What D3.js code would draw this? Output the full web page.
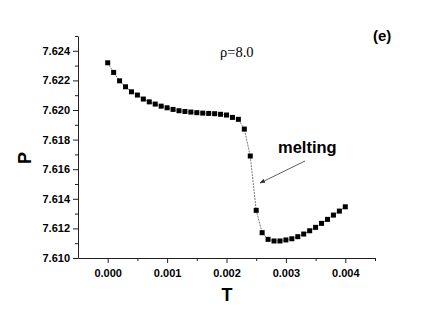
<!DOCTYPE html>
<html>
<head>
<meta charset="utf-8">
<script src="https://cdn.jsdelivr.net/npm/d3@7/dist/d3.min.js"></script>
<style>
  body { margin: 0; background: #fff; }
  svg { display: block; }
  .tick text { font-family: Arial, "Liberation Sans", sans-serif; font-weight: bold; font-size: 11px; fill: #000; }
</style>
</head>
<body>
<div id="chart"></div>
<script>
// temperature steps (0 .. 0.004, every 0.0001)
const temps = d3.range(0, 41).map(i => +(i * 0.0001).toFixed(4));
// pressure
const pressure = [
  7.62319, 7.62254, 7.62197, 7.62157, 7.62123, 7.62101, 7.62074, 7.62055, 7.62040, 7.62026,
  7.62015, 7.62004, 7.61995, 7.61990, 7.61986, 7.61982, 7.61979, 7.61977, 7.61975, 7.61971,
  7.61966, 7.61950, 7.61937, 7.61871, 7.61689, 7.61322, 7.61171, 7.61126, 7.61115, 7.61115,
  7.61122, 7.61130, 7.61144, 7.61162, 7.61184, 7.61207, 7.61234, 7.61261, 7.61290, 7.61317,
  7.61346
];
const xTicks = [0, 0.001, 0.002, 0.003, 0.004];
const xMinor = [0.0005, 0.0015, 0.0025, 0.0035, 0.0045];
const yTicks = [7.610, 7.612, 7.614, 7.616, 7.618, 7.620, 7.622, 7.624];
const yMinor = [7.611, 7.613, 7.615, 7.617, 7.619, 7.621, 7.623, 7.625];

const data = temps.map((t, i) => ({ t: t, p: pressure[i] }));

const width = 436, height = 309;
const svg = d3.select("#chart").append("svg")
  .attr("width", width)
  .attr("height", height);

const x = d3.scaleLinear().domain([-0.0005, 0.0045]).range([78, 375]);
const y = d3.scaleLinear().domain([7.610, 7.625]).range([258, 36]);

// minor ticks first, then the main axes on top
svg.append("g")
  .attr("transform", "translate(0,258)")
  .call(d3.axisBottom(x).tickValues(xMinor).tickSize(3).tickFormat(""))
  .call(g => g.select(".domain").remove());
svg.append("g")
  .attr("transform", "translate(78,0)")
  .call(d3.axisLeft(y).tickValues(yMinor).tickSize(3).tickFormat(""))
  .call(g => g.select(".domain").remove());

svg.append("g")
  .attr("transform", "translate(0,258)")
  .call(d3.axisBottom(x).tickValues(xTicks).tickSize(5).tickSizeOuter(0).tickPadding(6).tickFormat(d3.format(".3f")));
svg.append("g")
  .attr("transform", "translate(78,0)")
  .call(d3.axisLeft(y).tickValues(yTicks).tickSize(5).tickSizeOuter(0).tickPadding(3).tickFormat(d3.format(".3f")));

svg.selectAll(".domain, .tick line").attr("stroke", "#222").attr("stroke-width", 1);

// axis titles
svg.append("text")
  .attr("x", 227).attr("y", 301)
  .attr("text-anchor", "middle")
  .attr("font-family", "Arial, 'Liberation Sans', sans-serif")
  .attr("font-weight", "bold").attr("font-size", 18)
  .text("T");
svg.append("text")
  .attr("transform", "translate(31,158) rotate(-90)")
  .attr("text-anchor", "middle")
  .attr("font-family", "Arial, 'Liberation Sans', sans-serif")
  .attr("font-weight", "bold").attr("font-size", 18)
  .text("P");

// connecting line
const line = d3.line().x(d => x(d.t)).y(d => y(d.p));
svg.append("path")
  .datum(data)
  .attr("fill", "none")
  .attr("stroke", "#555")
  .attr("stroke-width", 0.8)
  .attr("stroke-dasharray", "2,1")
  .attr("d", line);

// square markers
svg.selectAll("rect.pt")
  .data(data)
  .enter()
  .append("rect")
  .attr("class", "pt")
  .attr("x", d => x(d.t) - 2.5)
  .attr("y", d => y(d.p) - 2.5)
  .attr("width", 5)
  .attr("height", 5)
  .attr("fill", "#000");

// labels
svg.append("text")
  .attr("x", 220).attr("y", 57)
  .style("font-family", "'Liberation Serif', 'DejaVu Serif', serif")
  .attr("font-size", 14.5)
  .text("ρ=8.0");
svg.append("text")
  .attr("x", 373).attr("y", 41)
  .attr("font-family", "Arial, 'Liberation Sans', sans-serif")
  .attr("font-weight", "bold").attr("font-size", 15)
  .text("(e)");
svg.append("text")
  .attr("x", 278).attr("y", 153)
  .attr("font-family", "Arial, 'Liberation Sans', sans-serif")
  .attr("font-weight", "bold").attr("font-size", 16.5)
  .text("melting");

// arrow pointing at the drop
svg.append("defs").append("marker")
  .attr("id", "arr")
  .attr("viewBox", "0 0 10 10")
  .attr("refX", 9).attr("refY", 5)
  .attr("markerWidth", 7).attr("markerHeight", 7)
  .attr("orient", "auto")
  .append("path")
  .attr("d", "M0,1 L10,5 L0,9 Z")
  .attr("fill", "#333");
svg.append("line")
  .attr("x1", 305).attr("y1", 161)
  .attr("x2", 260).attr("y2", 183)
  .attr("stroke", "#333")
  .attr("stroke-width", 0.8)
  .attr("marker-end", "url(#arr)");
</script>
</body>
</html>
